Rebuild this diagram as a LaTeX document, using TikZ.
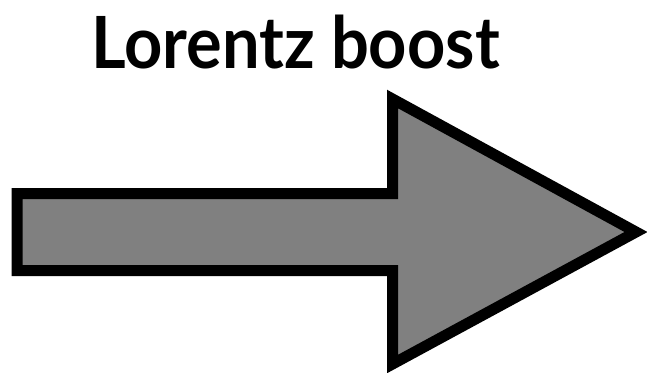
\documentclass[tikz,border=0pt]{standalone}
\usepackage{fontspec}
\setmainfont{Lato}
\definecolor{arrowgray}{RGB}{128,128,128}
\tikzset{
  bigarrow/.style={draw=black, fill=arrowgray, line width=11pt, line join=miter, miter limit=10},
  titletext/.style={font=\bfseries\fontsize{72}{72}\selectfont, inner sep=0pt, anchor=base, xscale=0.927}
}
\begin{document}
\begin{tikzpicture}[x=1pt,y=-1pt]
\useasboundingbox (0,0) rectangle (647,372);
\draw[bigarrow] (17,193.5) -- (392.5,193.5) -- (392.5,99) -- (636,232) -- (392.5,364) -- (392.5,270.5) -- (17,270.5) -- cycle;
\node[titletext] (title) at (295.5,68) {Lorentz boost};
\end{tikzpicture}
\end{document}
